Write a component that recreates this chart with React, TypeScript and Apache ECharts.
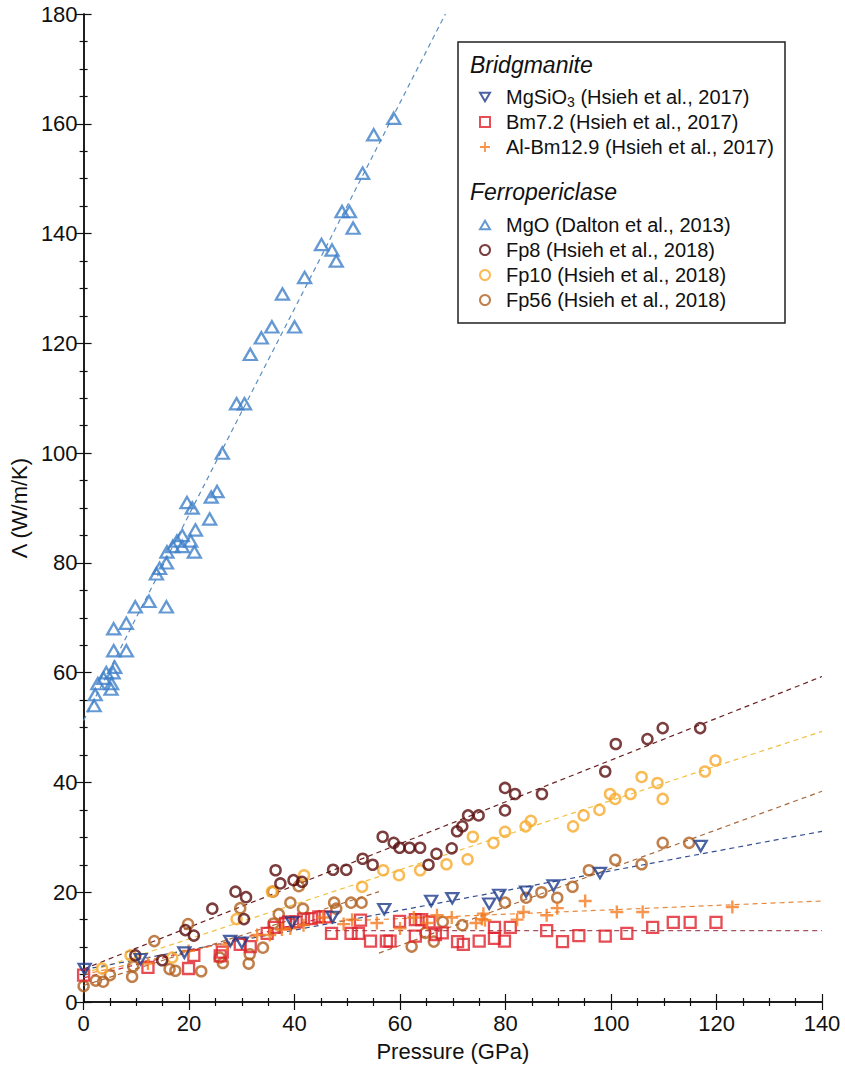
import { useEffect, useRef } from "react";
import * as echarts from "echarts";

const FONT = '"Liberation Sans", Arial, Helvetica, sans-serif';

// ---- scatter data: [pressure GPa, conductivity W/m/K] ----
const mgsio3Data = [
  [0.2, 6], [10.8, 7.8], [19.1, 9], [27.8, 11.1], [30, 10.8], [39.5, 14.5], [47.2, 15.5],
  [57, 16.9], [65.9, 18.4], [69.9, 18.9], [76.9, 17.9], [78.8, 19.5], [83.9, 20.1],
  [89.1, 21.2], [97.9, 23.5], [117, 28.4],
];
const bm72Data = [
  [0, 4.9], [12.2, 6.3], [19.9, 6.1], [20.9, 8.5], [25.9, 8.4], [26.3, 9.1], [29.7, 10.5],
  [31.6, 10.1], [34.8, 12.5], [36.2, 13.6], [38.3, 14.3], [38.9, 14.6], [40.3, 14.6],
  [41.7, 15.1], [43.2, 15.2], [44.6, 15.5], [45.8, 15.5], [47, 12.5], [50.7, 12.5],
  [52.1, 12.5], [52.5, 14.9], [54.4, 11.1], [57.4, 11.1], [58.1, 11.1], [59.9, 14.7],
  [62.9, 12], [62.9, 15], [64.1, 15], [65.5, 14.6], [66.7, 12.3], [68, 12.6], [70.9, 11],
  [72, 10.5], [75, 11.1], [77.9, 13.6], [77.9, 11.6], [79.8, 11.1], [80.9, 13.6],
  [87.8, 13], [90.8, 11], [93.9, 12.1], [98.9, 12], [103, 12.5], [107.9, 13.6],
  [111.8, 14.5], [115, 14.5], [119.9, 14.5],
];
const albmData = [
  [12.2, 7], [19.9, 9.3], [27.2, 10.5], [32.9, 12.2], [35.3, 12.2], [37.6, 13.2], [39.2, 13.4],
  [41.7, 14], [45.4, 15.4], [49.3, 14.2], [50.9, 15], [55.6, 14.4], [60, 13.4], [62.6, 15.4],
  [65.1, 14.4], [67, 15.8], [69.8, 15.4], [74.4, 14.4], [75.5, 15.1], [75.8, 16.1],
  [76.1, 14.9], [82.2, 15], [83.4, 16.4], [87.8, 15.8], [89.8, 17.1], [95.1, 18.4],
  [101.1, 16.4], [106, 16.4], [123, 17.3],
];
const mgoData = [
  [2.0, 54], [2.2, 56], [2.7, 58], [3.8, 59], [4.3, 60], [5.2, 57], [5.3, 58], [5.6, 60],
  [5.9, 61], [5.7, 64], [8.1, 64], [5.7, 68], [8.1, 69], [9.8, 72], [12.4, 73], [15.7, 72],
  [13.8, 78], [14.4, 79], [15.7, 80], [15.8, 82], [16.9, 83], [17.7, 84], [18.7, 85],
  [18.7, 83], [20.3, 84], [21.0, 82], [21.2, 86], [19.6, 91], [20.6, 90], [23.9, 88],
  [24.2, 92], [25.3, 93], [26.3, 100], [29.0, 109], [30.5, 109], [31.6, 118], [33.7, 121],
  [35.7, 123], [40.0, 123], [37.7, 129], [41.9, 132], [45.1, 138], [47.1, 137], [47.9, 135],
  [51.1, 141], [49.0, 144], [50.4, 144], [52.9, 151], [55.0, 158], [58.8, 161],
];
const fp8Data = [
  [9.8, 8.5], [14.9, 7.6], [19.3, 13.1], [20.9, 12.1], [24.4, 17], [28.8, 20.1], [30.8, 19.1],
  [30.4, 15.1], [36.4, 24], [37.3, 21.6], [39.8, 22.2], [41.4, 21.9], [47.3, 24.1],
  [49.8, 24.1], [52.9, 26.1], [54.8, 25], [56.7, 30.1], [58.8, 29], [59.9, 28.1],
  [61.8, 28.1], [63.8, 28.1], [65.4, 25], [66.9, 27], [69.8, 28], [70.8, 31.1], [71.8, 32],
  [72.9, 34], [74.9, 34], [79.9, 39], [79.9, 34.9], [81.8, 37.9], [86.9, 37.9], [98.9, 42],
  [100.9, 47], [106.9, 47.9], [109.8, 49.9], [116.9, 49.9],
];
const fp10Data = [
  [3.5, 6.1], [8.9, 8.5], [16.8, 8.1], [29, 15.1], [35.7, 20.1], [41.8, 23.1], [52.8, 21],
  [56.8, 24], [59.8, 23.1], [63.8, 24], [68.8, 25.1], [72.8, 26], [73.8, 30.1], [77.7, 29],
  [79.9, 31], [83.8, 32], [84.8, 33], [92.8, 32], [94.8, 34], [97.8, 35], [99.8, 37.9],
  [100.8, 37], [103.7, 37.9], [105.8, 41], [108.8, 39.9], [109.8, 37], [117.8, 42],
  [119.8, 44],
];
const fp56Data = [
  [0, 2.9], [2.3, 3.9], [3.7, 3.7], [5, 4.9], [9.2, 4.6], [9.4, 6.5], [13.4, 11.1], [16.3, 6],
  [17.4, 5.7], [19.8, 14.2], [22.3, 5.6], [25.8, 8.1], [26.4, 7.1], [29.7, 17.1], [31.5, 8.7],
  [31.3, 7], [34, 9.9], [35.9, 20.1], [36, 14.3], [37, 16], [39.2, 18.1], [40.8, 21.1],
  [41.6, 17], [47.5, 18.1], [47.9, 17], [50.7, 18.1], [52.7, 18.1], [62.2, 10.1],
  [64.8, 12.6], [66.4, 11], [68.1, 14.6], [71.8, 14], [79.9, 18.1], [83.9, 19], [86.8, 20],
  [89.8, 19], [92.7, 21], [95.8, 24], [100.8, 25.9], [105.8, 25.1], [109.8, 29], [114.8, 29],
];

// ---- dashed trend-line endpoints ----
const mgoFit = [[0, 51.3], [68.6, 180]];
const fp8Fit = [[0, 6], [140, 59.3]];
const fp10Fit = [[0, 5.2], [140, 49.3]];
const fp56LowFit = [[0, 3], [56, 20.1]];
const fp56HighFit = [[56, 8.9], [140, 38.4]];
const mgsio3Fit = [[0, 5.9], [140, 31.1]];
const bm72LowFit = [[0, 4.4], [46, 15.5]];
const bm72HighFit = [[46, 13], [140, 13]];
const albmLowFit = [[0, 5], [45, 14.6]];
const albmHighFit = [[45, 14.6], [140, 18.4]];

const xTicks = { min: 0, max: 140, interval: 20 };
const yTicks = { min: 0, max: 180, interval: 20 };

const NAMES = {
  mgsio3: "MgSiO3 (Hsieh et al., 2017)",
  bm72: "Bm7.2 (Hsieh et al., 2017)",
  albm: "Al-Bm12.9 (Hsieh et al., 2017)",
  mgo: "MgO (Dalton et al., 2013)",
  fp8: "Fp8 (Hsieh et al., 2018)",
  fp10: "Fp10 (Hsieh et al., 2018)",
  fp56: "Fp56 (Hsieh et al., 2018)",
};

const PLUS = "path://M4.1,0H5.9V4.1H10V5.9H5.9V10H4.1V5.9H0V4.1H4.1Z";
const DOWN_TRI = "path://M0,0L10,0L5,8.66Z";
const UP_TRI = "path://M5,0L10,8.66L0,8.66Z";

export default function App() {
  const ref = useRef<HTMLDivElement>(null);
  useEffect(() => {
    document.body.style.margin = "0";
    const chart = echarts.init(ref.current!, undefined, { renderer: "svg" });

    const hollow = (
      name: string,
      data: number[][],
      color: string,
      symbol: string,
      size: number | number[],
      bw = 2.3
    ) => ({
      name,
      type: "scatter",
      data,
      symbol,
      symbolSize: size,
      itemStyle: { color: "rgba(255,255,255,0)", borderColor: color, borderWidth: bw },
      z: 3,
    });
    const fit = (data: number[][], color: string) => ({
      type: "line",
      data,
      showSymbol: false,
      silent: true,
      lineStyle: { color, width: 1.2, type: [5, 4] },
      z: 2,
    });

    const axisCommon = {
      axisLine: { show: true, lineStyle: { color: "#111", width: 1.5 } },
      axisTick: { show: true, inside: true, length: 8, lineStyle: { color: "#111", width: 1.2 } },
      minorTick: { show: true, splitNumber: 4, length: 4, lineStyle: { color: "#111", width: 1.2 } },
      splitLine: { show: false },
    };

    chart.setOption({
      animation: false,
      backgroundColor: "#fff",
      grid: { left: 83, right: 23, top: 14, bottom: 65, containLabel: false },
      xAxis: [
        {
          type: "value",
          ...xTicks,
          position: "bottom",
          ...axisCommon,
          axisLabel: { fontSize: 22, color: "#111", fontFamily: FONT, margin: 10 },
          name: "Pressure (GPa)",
          nameLocation: "middle",
          nameGap: 38,
          nameTextStyle: { fontSize: 22, color: "#111", fontFamily: FONT },
        },
        {
          type: "value",
          ...xTicks,
          position: "top",
          ...axisCommon,
          axisLabel: { show: false },
        },
      ],
      yAxis: [
        {
          type: "value",
          ...yTicks,
          position: "left",
          ...axisCommon,
          axisLabel: { fontSize: 22, color: "#111", fontFamily: FONT, margin: 6 },
          name: "Λ (W/m/K)",
          nameLocation: "middle",
          nameGap: 40,
          nameTextStyle: { fontSize: 22, color: "#111", fontFamily: FONT },
        },
        {
          type: "value",
          ...yTicks,
          position: "right",
          ...axisCommon,
          axisLabel: { show: false },
        },
      ],
      graphic: [
        {
          type: "rect",
          shape: { x: 458, y: 42, width: 327, height: 281 },
          style: { fill: "#fff", stroke: "#222", lineWidth: 1.5 },
          z: 5,
        },
        {
          type: "text",
          left: 470,
          top: 53,
          z: 6,
          style: { text: "Bridgmanite", fill: "#111", font: `italic 23px ${FONT}` },
        },
        {
          type: "text",
          left: 470,
          top: 180,
          z: 6,
          style: { text: "Ferropericlase", fill: "#111", font: `italic 23px ${FONT}` },
        },
      ],
      legend: [
        {
          data: [NAMES.mgsio3, NAMES.bm72, NAMES.albm],
          orient: "vertical",
          left: 479,
          top: 85,
          padding: 0,
          itemGap: 1,
          itemWidth: 10,
          itemHeight: 10,
          selectedMode: false,
          z: 10,
          formatter: (n: string) =>
            n === NAMES.mgsio3 ? "MgSiO{sub|3} (Hsieh et al., 2017)" : n,
          textStyle: {
            fontSize: 20,
            lineHeight: 24,
            color: "#111",
            fontFamily: FONT,
            padding: [0, 0, 0, 11],
            rich: { sub: { fontSize: 14, lineHeight: 14, verticalAlign: "bottom", fontFamily: FONT, color: "#111" } },
          },
        },
        {
          data: [NAMES.mgo, NAMES.fp8, NAMES.fp10, NAMES.fp56],
          orient: "vertical",
          left: 479,
          top: 213,
          padding: 0,
          itemGap: 1,
          itemWidth: 10,
          itemHeight: 10,
          selectedMode: false,
          z: 10,
          textStyle: { fontSize: 20, lineHeight: 24, color: "#111", fontFamily: FONT, padding: [0, 0, 0, 11] },
        },
      ],
      series: [
        fit(mgoFit, "#5b8fc0"),
        fit(fp8Fit, "#6b2020"),
        fit(fp10Fit, "#f0c040"),
        fit(fp56LowFit, "#a8683a"),
        fit(fp56HighFit, "#a8683a"),
        fit(mgsio3Fit, "#34508f"),
        fit(bm72LowFit, "#c83040"),
        fit(bm72HighFit, "#a5505e"),
        fit(albmLowFit, "#e8883a"),
        fit(albmHighFit, "#e8883a"),
        hollow(NAMES.mgo, mgoData, "#3f80c8", UP_TRI, [13, 11.3]),
        hollow(NAMES.fp56, fp56Data, "#b2601e", "circle", 10, 2.5),
        hollow(NAMES.fp10, fp10Data, "#f7aa2c", "circle", 10, 2.5),
        hollow(NAMES.fp8, fp8Data, "#5a0c0c", "circle", 10, 2.5),
        hollow(NAMES.bm72, bm72Data, "#e0202a", "rect", 11),
        {
          name: NAMES.albm,
          type: "scatter",
          data: albmData,
          symbol: PLUS,
          symbolSize: 13,
          itemStyle: { color: "#f47a1e" },
          z: 3,
        },
        hollow(NAMES.mgsio3, mgsio3Data, "#1d3a8c", DOWN_TRI, [12, 10.4]),
      ],
    });
    return () => chart.dispose();
  }, []);
  return <div ref={ref} style={{ width: 845, height: 1067 }} />;
}
